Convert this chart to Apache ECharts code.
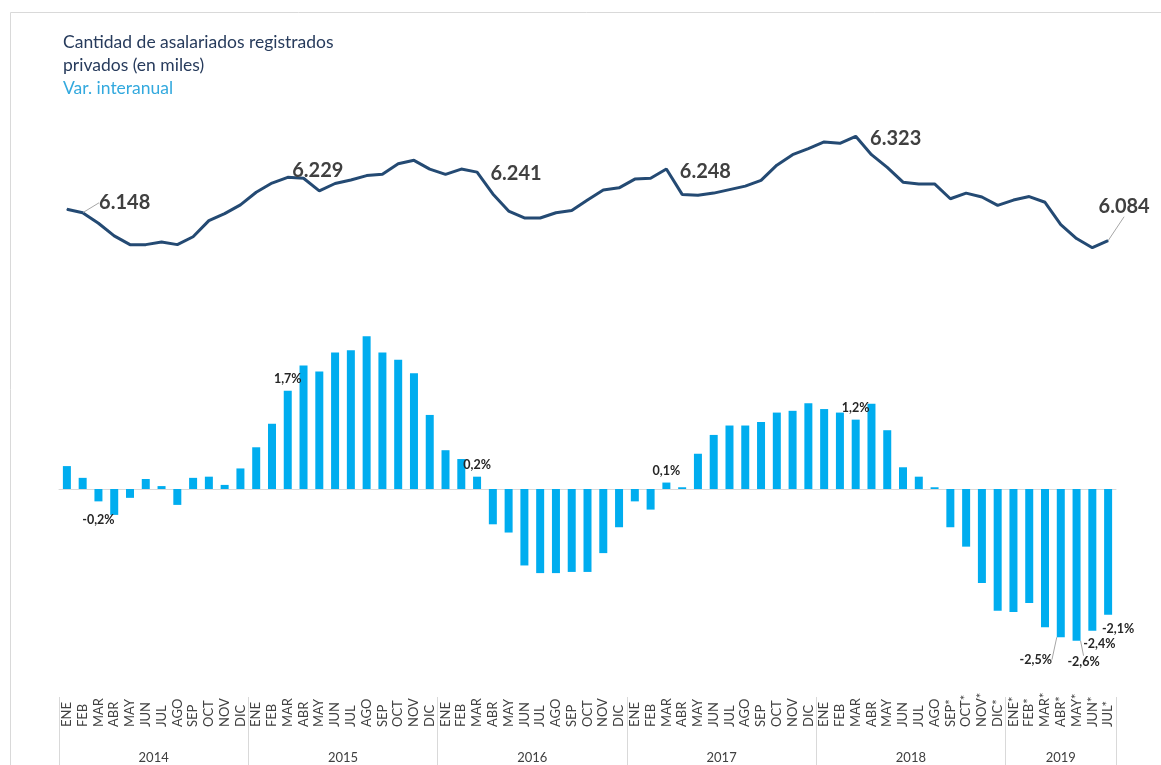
<!DOCTYPE html>
<html>
<head>
<meta charset="utf-8">
<script src="https://cdn.jsdelivr.net/npm/echarts@6/dist/echarts.min.js"></script>
<style>
  body { margin: 0; background: #fff; }
  #chart_asalariados { width: 1161px; height: 765px; }
</style>
</head>
<body>
<div id="chart_asalariados"></div>
<script>
// meses (el * marca datos provisorios)
var meses = ['ENE','FEB','MAR','ABR','MAY','JUN','JUL','AGO','SEP','OCT','NOV','DIC',
  'ENE','FEB','MAR','ABR','MAY','JUN','JUL','AGO','SEP','OCT','NOV','DIC',
  'ENE','FEB','MAR','ABR','MAY','JUN','JUL','AGO','SEP','OCT','NOV','DIC',
  'ENE','FEB','MAR','ABR','MAY','JUN','JUL','AGO','SEP','OCT','NOV','DIC',
  'ENE','FEB','MAR','ABR','MAY','JUN','JUL','AGO','SEP*','OCT*','NOV*','DIC*',
  'ENE*','FEB*','MAR*','ABR*','MAY*','JUN*','JUL*'];
var anios = ['2014','2015','2016','2017','2018','2019'];
var aniosInicio = [0, 12, 24, 36, 48, 60, 67];

// asalariados registrados privados (miles)
var asalariados = [6156, 6148, 6124, 6095, 6075, 6075, 6081, 6075, 6093, 6130, 6146, 6166,
  6195, 6216, 6229, 6227, 6198, 6215, 6223, 6233, 6236, 6260, 6268, 6248,
  6236, 6248, 6241, 6191, 6152, 6136, 6136, 6148, 6153, 6177, 6200, 6205,
  6225, 6227, 6248, 6190, 6188, 6193, 6201, 6209, 6222, 6257, 6281, 6295,
  6310, 6307, 6323, 6281, 6252, 6218, 6214, 6214, 6180, 6193, 6184, 6165,
  6177, 6185, 6172, 6121, 6089, 6068, 6084];

// var. interanual (%)
var varInteranual = [0.39, 0.19, -0.21, -0.44, -0.15, 0.17, 0.05, -0.27, 0.19, 0.21, 0.07, 0.35,
  0.71, 1.11, 1.67, 2.10, 2.00, 2.32, 2.36, 2.60, 2.32, 2.20, 1.97, 1.26,
  0.66, 0.51, 0.21, -0.60, -0.74, -1.30, -1.43, -1.43, -1.41, -1.41, -1.09, -0.65,
  -0.21, -0.35, 0.11, 0.03, 0.60, 0.92, 1.08, 1.08, 1.14, 1.30, 1.33, 1.46,
  1.36, 1.30, 1.18, 1.45, 1.00, 0.37, 0.21, 0.03, -0.65, -0.98, -1.60, -2.07,
  -2.09, -1.94, -2.35, -2.52, -2.58, -2.41, -2.14];

// puntos con etiqueta
var etiqLinea = [1, 14, 26, 38, 50, 66];
var etiqBarra = [2, 14, 26, 38, 50, 63, 64, 65, 66];

function drawAsalariados(){
  var myChart = echarts.init(document.getElementById("chart_asalariados"), null, {renderer: 'canvas'});

  // desplazamientos de etiquetas (px)
  var despLinea = {1: [42, -10], 14: [30, -7], 26: [39, 1], 38: [39, 2], 50: [40, 2], 66: [16, -34]};
  var guiaLinea = {1: true, 66: true};
  var despBarra = {2: [0, 7], 63: [-25, 11], 64: [7, 10], 65: [7, 2], 66: [10, 3]};
  var guiaBarra = {63: true, 64: true};

  var lineData = [];
  for(var i=0;i<asalariados.length;i++){
    if(etiqLinea.indexOf(i) >= 0){
      lineData.push({value: asalariados[i], label: {show: true}, labelLine: {show: !!guiaLinea[i]}});
    }else{
      lineData.push(asalariados[i]);
    }
  }
  var barData = [];
  for(i=0;i<varInteranual.length;i++){
    var v = varInteranual[i];
    if(etiqBarra.indexOf(i) >= 0){
      barData.push({value: v, label: {show: true, position: v < 0 ? 'bottom' : 'top'}, labelLine: {show: !!guiaBarra[i]}});
    }else{
      barData.push(v);
    }
  }

  var option = {
    animation: false,
    textStyle: {fontFamily: 'Lato'},
    title: [
      {
        text: 'Cantidad de asalariados registrados\nprivados (en miles)',
        left: 58, top: 26,
        textStyle: {fontFamily: 'Lato', fontSize: 17.5, fontWeight: 'normal', color: '#273b5c', lineHeight: 23}
      },
      {
        text: 'Var. interanual',
        left: 58, top: 72,
        textStyle: {fontFamily: 'Lato', fontSize: 17.5, fontWeight: 'normal', color: '#33a9de', lineHeight: 23}
      }
    ],
    graphic: [
      {type: 'rect', left: 8, top: 10, shape: {width: 1200, height: 800}, style: {fill: 'none', stroke: '#d9d9d9', lineWidth: 1}, silent: true}
    ],
    grid: {left: 59, right: 45, top: 100, bottom: 68, containLabel: false},
    xAxis: [
      {
        type: 'category',
        data: meses,
        boundaryGap: true,
        position: 'bottom',
        axisLine: {show: true, lineStyle: {color: '#d9d9d9', width: 1}},
        axisTick: {show: false},
        axisLabel: {
          interval: 0, rotate: 90, align: 'left', verticalAlign: 'middle',
          margin: 30, fontSize: 13, color: '#404040', fontFamily: 'Lato'
        }
      },
      {
        type: 'value',
        min: 0, max: 67,
        position: 'bottom',
        axisLine: {show: false},
        splitLine: {show: false},
        axisTick: {show: true, customValues: aniosInicio, length: 70, lineStyle: {color: '#d9d9d9', width: 1}},
        axisLabel: {
          customValues: [6, 18, 30, 42, 54, 63.5],
          margin: 54, fontSize: 13, color: '#404040', fontFamily: 'Lato',
          formatter: function(val){
            for(var k=0;k<anios.length;k++){
              if(val > aniosInicio[k] && val < aniosInicio[k+1]) return anios[k];
            }
            return '';
          }
        }
      }
    ],
    yAxis: [
      {type: 'value', show: false, min: 5039.5, max: 6406.1, splitLine: {show: false}},
      {type: 'value', show: false, min: -3.537, max: 6.616, splitLine: {show: false}}
    ],
    series: [
      {
        name: 'Var. interanual',
        type: 'bar',
        xAxisIndex: 0,
        yAxisIndex: 1,
        barWidth: 8,
        itemStyle: {color: '#00adef'},
        label: {
          show: false,
          fontSize: 12.5, fontWeight: 'bold', color: '#262626', fontFamily: 'Lato',
          formatter: function(p){ return p.value.toFixed(1).replace('.', ',') + '%'; }
        },
        labelLine: {show: false, lineStyle: {color: '#a6a6a6', width: 1}},
        labelLayout: function(p){
          var d = despBarra[p.dataIndex];
          return d ? {dx: d[0], dy: d[1]} : {};
        },
        data: barData
      },
      {
        name: 'Asalariados',
        type: 'line',
        xAxisIndex: 0,
        yAxisIndex: 0,
        symbol: 'circle',
        symbolSize: 1,
        showSymbol: true,
        showAllSymbol: true,
        lineStyle: {color: '#244a73', width: 3},
        itemStyle: {color: '#244a73'},
        label: {
          show: false,
          position: 'inside',
          fontSize: 20, fontWeight: 'bold', color: '#404040', fontFamily: 'Lato',
          formatter: function(p){ var s = String(p.value); return s.charAt(0) + '.' + s.slice(1); }
        },
        labelLine: {show: false, lineStyle: {color: '#a6a6a6', width: 1}},
        labelLayout: function(p){
          var d = despLinea[p.dataIndex];
          return d ? {dx: d[0], dy: d[1]} : {};
        },
        data: lineData
      }
    ]
  };
  myChart.setOption(option);
}
drawAsalariados();
</script>
</body>
</html>
